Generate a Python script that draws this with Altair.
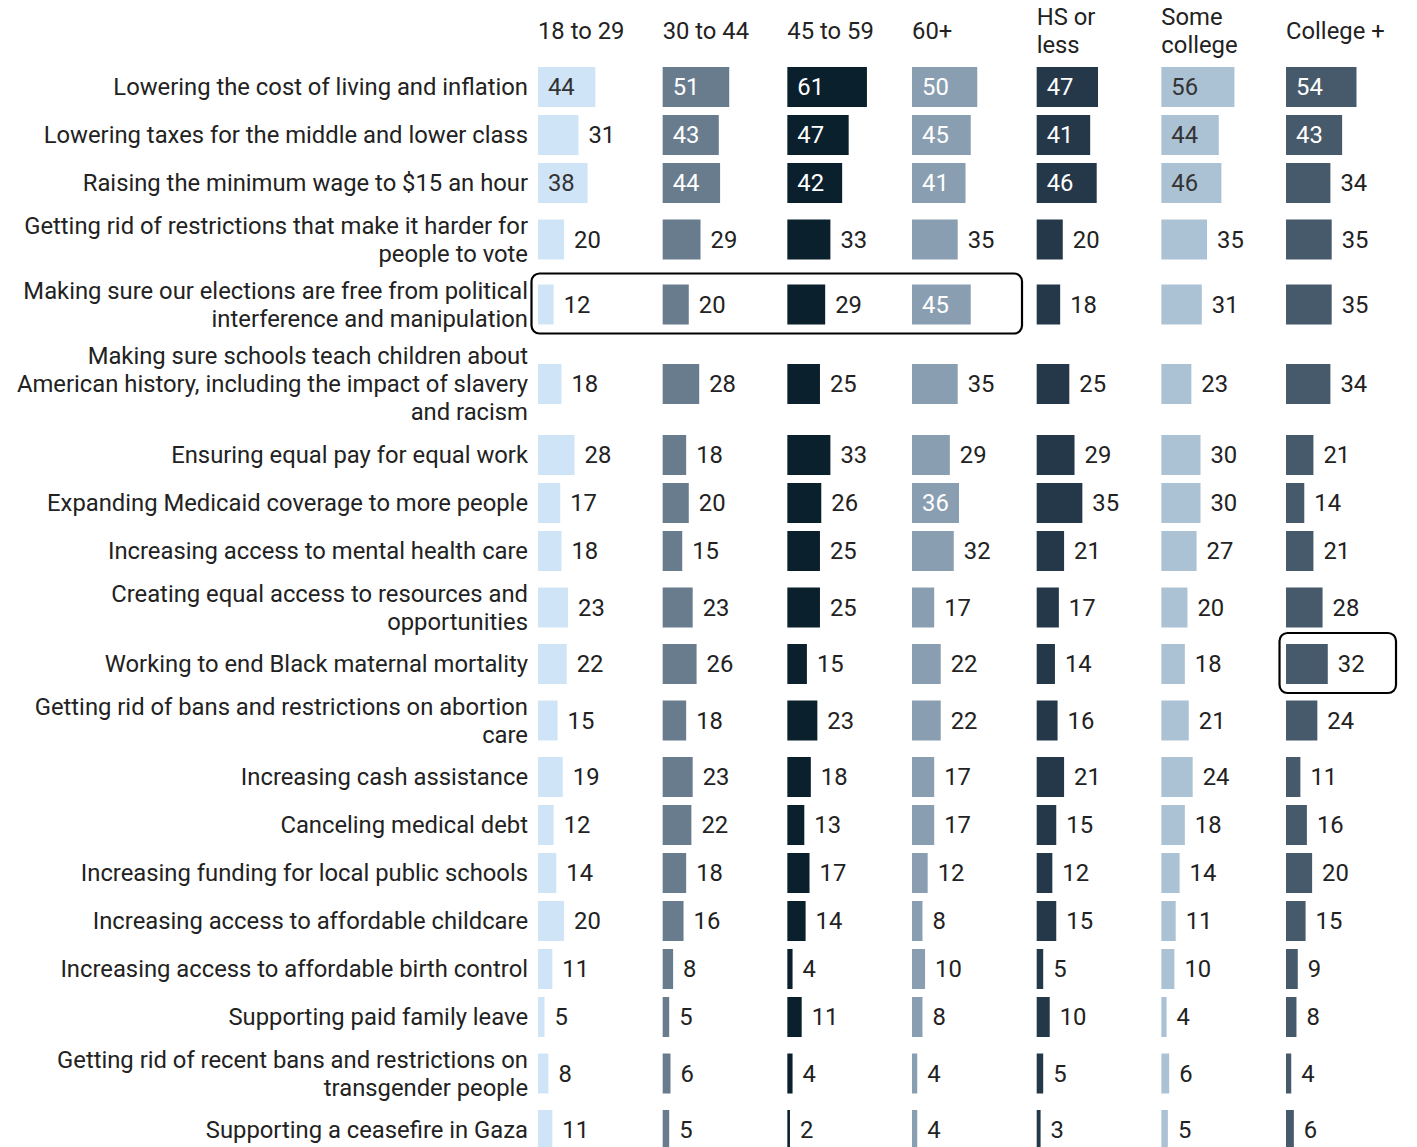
import altair as alt
import pandas as pd

# ---------------- data ----------------
row_labels = [
    "Lowering the cost of living and inflation",
    "Lowering taxes for the middle and lower class",
    "Raising the minimum wage to $15 an hour",
    "Getting rid of restrictions that make it harder for\npeople to vote",
    "Making sure our elections are free from political\ninterference and manipulation",
    "Making sure schools teach children about\nAmerican history, including the impact of slavery\nand racism",
    "Ensuring equal pay for equal work",
    "Expanding Medicaid coverage to more people",
    "Increasing access to mental health care",
    "Creating equal access to resources and\nopportunities",
    "Working to end Black maternal mortality",
    "Getting rid of bans and restrictions on abortion\ncare",
    "Increasing cash assistance",
    "Canceling medical debt",
    "Increasing funding for local public schools",
    "Increasing access to affordable childcare",
    "Increasing access to affordable birth control",
    "Supporting paid family leave",
    "Getting rid of recent bans and restrictions on\ntransgender people",
    "Supporting a ceasefire in Gaza",
]

groups = ["18 to 29", "30 to 44", "45 to 59", "60+", "HS or less", "Some college", "College +"]
group_headers = ["18 to 29", "30 to 44", "45 to 59", "60+", "HS or\nless", "Some\ncollege", "College +"]

v_18_29 = [44, 31, 38, 20, 12, 18, 28, 17, 18, 23, 22, 15, 19, 12, 14, 20, 11, 5, 8, 11]
v_30_44 = [51, 43, 44, 29, 20, 28, 18, 20, 15, 23, 26, 18, 23, 22, 18, 16, 8, 5, 6, 5]
v_45_59 = [61, 47, 42, 33, 29, 25, 33, 26, 25, 25, 15, 23, 18, 13, 17, 14, 4, 11, 4, 2]
v_60_plus = [50, 45, 41, 35, 45, 35, 29, 36, 32, 17, 22, 22, 17, 17, 12, 8, 10, 8, 4, 4]
v_hs_or_less = [47, 41, 46, 20, 18, 25, 29, 35, 21, 17, 14, 16, 21, 15, 12, 15, 5, 10, 5, 3]
v_some_college = [56, 44, 46, 35, 31, 23, 30, 30, 27, 20, 18, 21, 24, 18, 14, 11, 10, 4, 6, 5]
v_college_plus = [54, 43, 34, 35, 35, 34, 21, 14, 21, 28, 32, 24, 11, 16, 20, 15, 9, 8, 4, 6]

series = [v_18_29, v_30_44, v_45_59, v_60_plus, v_hs_or_less, v_some_college, v_college_plus]

# highlighted cells: (row index, first group, last group)
highlights = [(4, "18 to 29", "60+"), (10, "College +", "College +")]

# ---------------- styles / layout ----------------
bar_colors = ["#cfe5f7", "#687c8e", "#0b202d", "#8a9eb1", "#253849", "#abc2d5", "#475a6b"]
light_groups = ["18 to 29", "Some college"]
INSIDE_MIN = 36          # labels of bars at least this long sit inside the bar
FONT = "Roboto"
FS = 23.8
LH = 28

PX = 1.305               # pixels per percentage point
W, H = 1400, 1140
PAD_TOP = 6
LABEL_AREA = 530         # px left of first bar column
COL_STEP = 124.67 / PX   # distance between bar columns, in value units
ROW_START = 49
HEADER_Y = 17.5
TEXT_DY = 1
ROW_H = {1: 48, 2: 65, 3: 94}
BAR_HALF = 20

# row geometry derived from the number of label lines
rows = pd.DataFrame({"label": row_labels})
rows["row"] = range(len(rows))
rows["nlines"] = rows["label"].str.count("\n") + 1
rows["h"] = rows["nlines"].map(ROW_H)
rows["top"] = ROW_START + rows["h"].cumsum() - rows["h"]
rows["ymid"] = rows["top"] + rows["h"] / 2
rows["lx"] = 0

long_recs = []
for gi, (g, vals) in enumerate(zip(groups, series)):
    for ri, v in enumerate(vals):
        long_recs.append({"group": g, "col": gi, "row": ri, "value": v,
                          "ymid": float(rows.loc[ri, "ymid"]),
                          "light": g in light_groups})
cells = pd.DataFrame(long_recs)

heads = pd.DataFrame({"header": group_headers, "col": range(len(groups))})
heads["hy"] = HEADER_Y
heads["nlines"] = heads["header"].str.count("\n") + 1

hl = pd.DataFrame([
    {"row": r, "c0": groups.index(a), "c1": groups.index(b), "ymid": float(rows.loc[r, "ymid"])}
    for r, a, b in highlights
])

xs = alt.Scale(domain=[-LABEL_AREA / PX, (W - LABEL_AREA) / PX], nice=False, zero=False)
ys = alt.Scale(domain=[0, H], reverse=True, nice=False, zero=False)

step = f"{COL_STEP}"

bars = alt.Chart(cells).transform_calculate(
    x0=f"datum.col * {step}",
    x1=f"datum.col * {step} + datum.value",
    yt=f"datum.ymid - {BAR_HALF}",
    yb=f"datum.ymid + {BAR_HALF}",
).mark_rect().encode(
    x=alt.X("x0:Q", scale=xs, axis=None),
    x2="x1:Q",
    y=alt.Y("yt:Q", scale=ys, axis=None),
    y2="yb:Q",
    color=alt.Color("group:N", scale=alt.Scale(domain=groups, range=bar_colors), legend=None),
)

values = alt.Chart(cells).transform_calculate(
    tx=f"datum.value >= {INSIDE_MIN} ? datum.col * {step} : datum.col * {step} + datum.value",
    tcolor=f"datum.value >= {INSIDE_MIN} ? (datum.light ? '#333333' : '#ffffff') : '#222222'",
).mark_text(align="left", baseline="middle", dx=10, dy=TEXT_DY, font=FONT, fontSize=FS).encode(
    x=alt.X("tx:Q", scale=xs, axis=None),
    y=alt.Y("ymid:Q", scale=ys, axis=None),
    text=alt.Text("value:Q"),
    color=alt.Color("tcolor:N", scale=None),
)

labels = alt.Chart(rows).transform_calculate(
    lines="split(datum.label, '\\n')",
    ly=f"datum.ymid - (datum.nlines - 1) * {LH / 2}",
).mark_text(align="right", baseline="middle", dx=-10, dy=TEXT_DY, font=FONT, fontSize=FS,
            lineHeight=LH, color="#222222").encode(
    x=alt.X("lx:Q", scale=xs, axis=None),
    y=alt.Y("ly:Q", scale=ys, axis=None),
    text="lines:N",
)

headers = alt.Chart(heads).transform_calculate(
    hx=f"datum.col * {step}",
    lines="split(datum.header, '\\n')",
    ly=f"datum.hy - (datum.nlines - 1) * {LH / 2}",
).mark_text(align="left", baseline="middle", font=FONT, fontSize=FS,
            lineHeight=LH, color="#222222").encode(
    x=alt.X("hx:Q", scale=xs, axis=None),
    y=alt.Y("ly:Q", scale=ys, axis=None),
    text="lines:N",
)

boxes = alt.Chart(hl).transform_calculate(
    bx0=f"datum.c0 * {step} - {6.5 / PX}",
    bx1=f"datum.c1 * {step} + {110 / PX}",
    by0="datum.ymid - 31",
    by1="datum.ymid + 29",
).mark_rect(fillOpacity=0, stroke="#000000", strokeWidth=2.2, cornerRadius=8).encode(
    x=alt.X("bx0:Q", scale=xs, axis=None),
    x2="bx1:Q",
    y=alt.Y("by0:Q", scale=ys, axis=None),
    y2="by1:Q",
)

chart = alt.layer(bars, values, labels, headers, boxes).properties(
    width=W, height=H,
    padding={"top": PAD_TOP, "left": 0, "right": 0, "bottom": 0},
    autosize=alt.AutoSizeParams(type="none"),
).configure_view(stroke="transparent", strokeWidth=0).configure(
    font=FONT, background="#ffffff", style={"cell": {"stroke": "transparent"}}
)

chart.save("out.html", embed_options={"renderer": "svg", "actions": False})
